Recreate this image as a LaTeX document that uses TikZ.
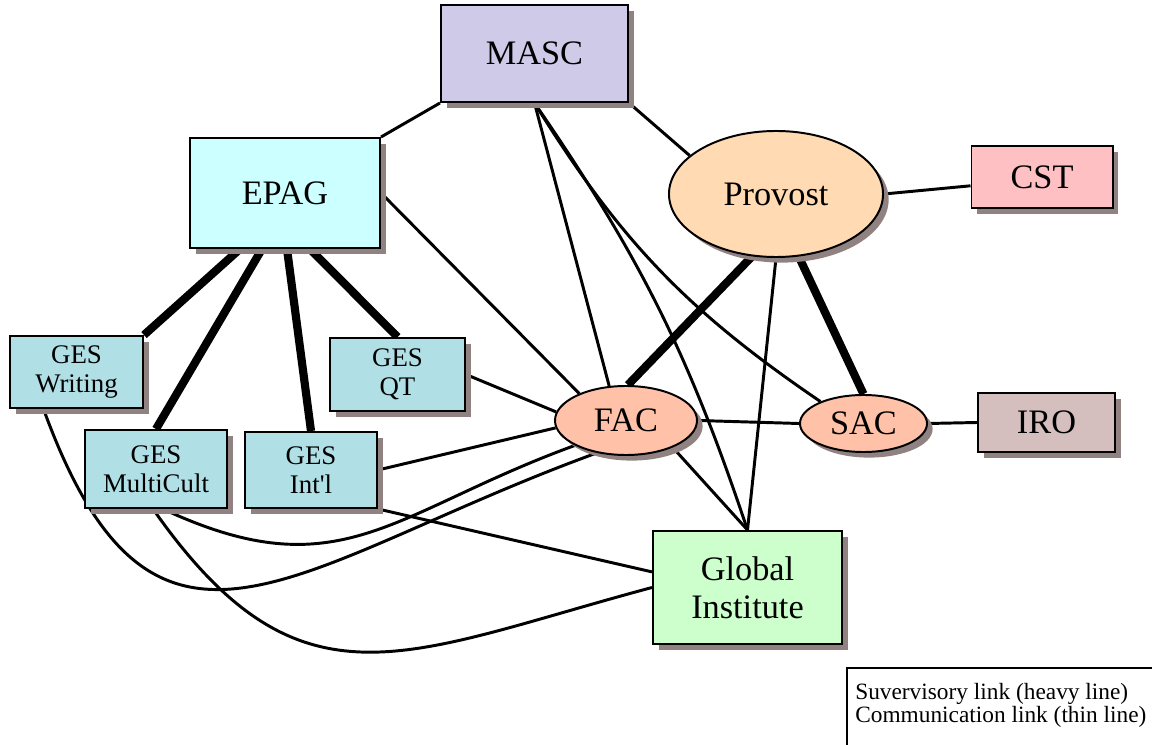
\documentclass[tikz,border=0pt]{standalone}
\usepackage{fontspec}
\setmainfont{Liberation Serif}
\usetikzlibrary{shapes.geometric,shadows,backgrounds}

\definecolor{mascfill}{RGB}{206,202,232}
\definecolor{epagfill}{RGB}{204,255,255}
\definecolor{provfill}{RGB}{255,218,178}
\definecolor{cstfill}{RGB}{255,192,196}
\definecolor{gesfill}{RGB}{176,224,230}
\definecolor{councilfill}{RGB}{255,194,168}
\definecolor{irofill}{RGB}{212,190,190}
\definecolor{gifill}{RGB}{204,255,204}
\definecolor{shadowgray}{RGB}{145,130,130}

\begin{document}
\begin{tikzpicture}[x=0.025cm, y=0.025cm,
    org node/.style={draw, line width=1.4pt, inner sep=2pt, align=center,
      drop shadow={shadow xshift=0.14cm, shadow yshift=-0.14cm, fill=shadowgray, opacity=1}},
    big box/.style={org node, rectangle, font=\fontsize{24.4}{26.9}\selectfont},
    big oval/.style={org node, ellipse, inner sep=0pt, font=\fontsize{24.4}{26.9}\selectfont},
    ges box/.style={org node, rectangle, fill=gesfill, font=\fontsize{19.1}{20.6}\selectfont},
    thin link/.style={line width=2.1pt},
    heavy link/.style={line width=5.8pt}]

    \useasboundingbox (0,0) rectangle (1152,744);

    % Top level
    \node[big box, fill=mascfill, minimum width=4.675cm, minimum height=2.425cm] (masc) at (534.5,690.5) {MASC};
    \node[big box, fill=epagfill, minimum width=4.75cm, minimum height=2.75cm] (epag) at (285,551) {EPAG};
    \node[big oval, fill=provfill, minimum width=5.35cm, minimum height=3.15cm] (prov) at (776,550) {Provost};
    \node[big box, fill=cstfill, minimum width=3.525cm, minimum height=1.55cm] (cst) at (1042,567) {CST};

    % GES groups
    \node[ges box, minimum width=3.325cm, minimum height=1.8cm] (wri) at (76.5,372) {GES\\Writing};
    \node[ges box, minimum width=3.375cm, minimum height=1.825cm] (qt) at (397.5,369.5) {GES\\QT};
    \node[ges box, minimum width=3.55cm, minimum height=1.95cm] (mc) at (156,275) {GES\\MultiCult};
    \node[ges box, minimum width=3.3cm, minimum height=1.9cm] (intl) at (311,274) {GES\\Int\textquotesingle l};

    % Councils
    \node[big oval, fill=councilfill, minimum width=3.55cm, minimum height=1.725cm] (fac) at (626,323.5) {FAC};
    \node[big oval, fill=councilfill, minimum width=3.175cm, minimum height=1.425cm] (sac) at (863.5,320.5) {SAC};
    \node[big box, fill=irofill, minimum width=3.425cm, minimum height=1.475cm] (iro) at (1046.5,321.5) {IRO};
    \node[big box, fill=gifill, minimum width=4.725cm, minimum height=2.825cm] (gi) at (747.5,156.5) {Global\\Institute};

    \begin{scope}[on background layer]
    % Supervisory links
    \draw[heavy link] ([xshift=-1.125cm]epag.south) -- (wri.north east);
    \draw[heavy link] ([xshift=-0.575cm]epag.south) -- (mc.north);
    \draw[heavy link] ([xshift=0.05cm]epag.south) -- (intl.north);
    \draw[heavy link] ([xshift=0.625cm]epag.south) -- (qt.north);
    \draw[heavy link] (prov.-111) -- (fac.87);
    \draw[heavy link] (prov.-70) -- (sac.north);

    % Communication links
    \draw[thin link] (masc.south west) -- (epag.north east);
    \draw[thin link] (masc.south east) -- (prov.156);
    \draw[thin link] (masc.south) -- (fac.116);
    \draw[thin link] (masc.south) to[bend right=12] (sac.153);
    \draw[thin link] (masc.south) to[bend left=8] (gi.north);
    \draw[thin link] (epag.east) -- (fac.150);
    \draw[thin link] (qt.east) -- (fac.173);
    \draw[thin link] (intl.east) -- (fac.-174);
    \draw[thin link] ([xshift=0.175cm]mc.south) to[out=-25, in=200, looseness=1.2] (fac.206);
    \draw[thin link] ([xshift=-0.825cm]wri.south) to[out=-70, in=200, looseness=1.5] (fac.228);
    \draw[thin link] ([xshift=-0.075cm]mc.south) to[out=-55, in=195, looseness=1.3] (gi.west);
    \draw[thin link] (intl.south east) -- ([yshift=0.39cm]gi.west);
    \draw[thin link] (fac.east) -- (sac.west);
    \draw[thin link] (sac.east) -- (iro.west);
    \draw[thin link] (prov.east) -- ([yshift=-0.22cm]cst.west);
    \draw[thin link] (prov.south) -- (gi.north);
    \draw[thin link] (fac.-30) -- (gi.north);
    \end{scope}

    % Legend
    \draw[line width=1.4pt] (847,76) rectangle (1170,-20);
    \node[anchor=north west, align=left, inner sep=0pt, font=\fontsize{16.6}{16.4}\selectfont] (key) at (855,61) {Suvervisory link (heavy line)\\Communication link (thin line)};

\end{tikzpicture}
\end{document}
